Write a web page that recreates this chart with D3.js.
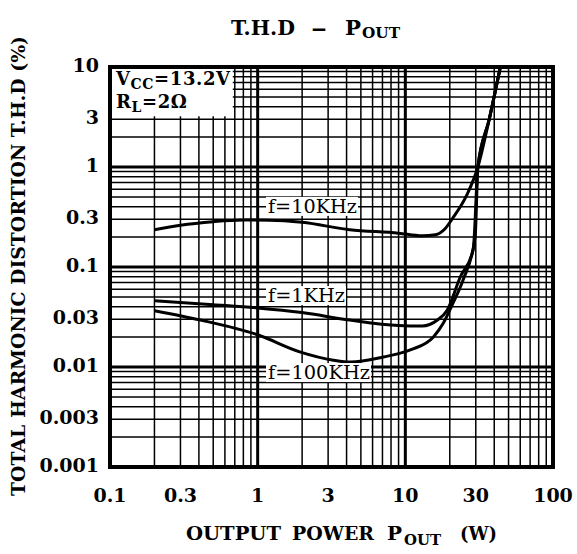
<!DOCTYPE html>
<html>
<head>
<meta charset="utf-8">
<script src="https://cdn.jsdelivr.net/npm/d3@7"></script>
<style>
  body { margin: 0; background: #fff; }
  svg text { font-family: "DejaVu Serif", serif; fill: #000; }
</style>
</head>
<body>
<div id="chart"></div>
<script>
// frame
const FRAME_WIDTH = 577;
const FRAME_HEIGHT = 554;
const PLOT = {left: 110, right: 553, top: 67, bottom: 467};

// tick labels
const X_TICKS = [0.1, 0.3, 1, 3, 10, 30, 100];
const X_TICK_LABELS = ["0.1", "0.3", "1", "3", "10", "30", "100"];
const Y_TICKS = [0.001, 0.003, 0.01, 0.03, 0.1, 0.3, 1, 3, 10];
const Y_TICK_LABELS = ["0.001", "0.003", "0.01", "0.03", "0.1", "0.3", "1", "3", "10"];

// f = 10KHz
const POUT_10K = [0.2, 0.3, 0.5, 0.8, 1.2, 2, 4.2, 9, 13, 16, 18.5, 21, 26, 31, 37, 44];
const THD_10K  = [0.236, 0.262, 0.284, 0.295, 0.294, 0.28, 0.236, 0.218, 0.205, 0.21, 0.24, 0.31, 0.52, 1.0, 3.0, 10];

// f = 1KHz
const POUT_1K = [0.2, 0.5, 1, 2, 4.2, 9, 13, 16.5, 19.2, 23.5, 28.8, 31, 37, 44];
const THD_1K  = [0.046, 0.042, 0.039, 0.035, 0.0295, 0.026, 0.0257, 0.0295, 0.037, 0.079, 0.148, 1.0, 3.0, 10];

// f = 100KHz
const POUT_100K = [0.2, 0.41, 1, 1.95, 3.26, 4.25, 7.1, 10.8, 15.5, 18.1, 21.1, 24.6, 29.7, 31, 37, 44];
const THD_100K  = [0.0366, 0.0295, 0.021, 0.0141, 0.0117, 0.0112, 0.0126, 0.0148, 0.02, 0.0275, 0.044, 0.074, 0.2, 1.0, 3.0, 10];

const SVG = d3.select("#chart")
  .append("svg")
    .attr("width", FRAME_WIDTH)
    .attr("height", FRAME_HEIGHT);

const x = d3.scaleLog().domain([0.1, 100]).range([PLOT.left, PLOT.right]);
const y = d3.scaleLog().domain([0.001, 10]).range([PLOT.bottom, PLOT.top]);

// grid: 1..9 in every decade, decades drawn heavier
const isDecade = (v) => Math.abs(Math.log10(v) - Math.round(Math.log10(v))) < 1e-6;

const grid = SVG.append("g").attr("stroke", "#000");
grid.selectAll(".vg")
  .data(x.ticks())
  .enter()
  .append("line")
    .attr("x1", (d) => x(d)).attr("x2", (d) => x(d))
    .attr("y1", PLOT.top).attr("y2", PLOT.bottom)
    .attr("stroke-width", (d) => isDecade(d) ? 3 : 1.5);

grid.selectAll(".hg")
  .data(y.ticks())
  .enter()
  .append("line")
    .attr("x1", PLOT.left).attr("x2", PLOT.right)
    .attr("y1", (d) => y(d)).attr("y2", (d) => y(d))
    .attr("stroke-width", (d) => isDecade(d) ? 3 : 1.5);

// legend box (covers the grid)
SVG.append("rect")
  .attr("x", PLOT.left)
  .attr("y", PLOT.top)
  .attr("width", x(0.7) - PLOT.left - 2)
  .attr("height", y(3) - PLOT.top - 3)
  .attr("fill", "#fff");

const legend = SVG.append("g").attr("font-weight", "bold").attr("font-size", 18);
const l1 = legend.append("text").attr("x", 116).attr("y", 85).attr("letter-spacing", 0.6);
l1.append("tspan").text("V");
l1.append("tspan").attr("font-size", 14).attr("dy", 4).text("CC");
l1.append("tspan").attr("dy", -4).text("=13.2V");
const l2 = legend.append("text").attr("x", 116).attr("y", 108).attr("letter-spacing", 0.6);
l2.append("tspan").text("R");
l2.append("tspan").attr("font-size", 14).attr("dy", 4).text("L");
l2.append("tspan").attr("dy", -4).text("=2\u03A9");

// curves
const line = d3.line()
  .x((d) => x(d[0]))
  .y((d) => y(d[1]))
  .curve(d3.curveMonotoneX);

const curves = [
  {p: POUT_10K, t: THD_10K},
  {p: POUT_1K, t: THD_1K},
  {p: POUT_100K, t: THD_100K}
];

SVG.append("g")
  .selectAll("path")
  .data(curves)
  .enter()
  .append("path")
    .attr("fill", "none")
    .attr("stroke", "#000")
    .attr("stroke-width", 3)
    .attr("d", (c) => line(c.p.map((v, i) => [v, c.t[i]])));

// curve labels with white background
const curveLabels = [
  {text: "f=10KHz", v: 0.39, w: 89},
  {text: "f=1KHz", v: 0.05, w: 77},
  {text: "f=100KHz", v: 0.0085, w: 102}
];
curveLabels.forEach((c) => {
  const g = SVG.append("g");
  const t = g.append("text")
    .attr("x", 268)
    .attr("y", y(c.v))
    .attr("font-size", 18)
    .attr("textLength", c.w)
    .attr("lengthAdjust", "spacingAndGlyphs")
    .attr("dominant-baseline", "middle")
    .text(c.text);
  const b = t.node().getBBox();
  g.insert("rect", "text")
    .attr("x", b.x - 2).attr("y", b.y + 1)
    .attr("width", b.width + 3).attr("height", b.height - 2)
    .attr("fill", "#fff");
});

// frame border
SVG.append("rect")
  .attr("x", PLOT.left).attr("y", PLOT.top)
  .attr("width", PLOT.right - PLOT.left)
  .attr("height", PLOT.bottom - PLOT.top)
  .attr("fill", "none")
  .attr("stroke", "#000")
  .attr("stroke-width", 4);

// tick labels
SVG.append("g")
  .selectAll("text")
  .data(X_TICKS)
  .enter()
  .append("text")
    .attr("x", (d) => x(d))
    .attr("y", 502)
    .attr("text-anchor", "middle")
    .attr("font-size", 19)
    .attr("font-weight", "bold")
    .text((d, i) => X_TICK_LABELS[i]);

SVG.append("g")
  .selectAll("text")
  .data(Y_TICKS)
  .enter()
  .append("text")
    .attr("x", 99)
    .attr("y", (d) => y(d))
    .attr("text-anchor", "end")
    .attr("dominant-baseline", "middle")
    .attr("font-size", 19)
    .attr("font-weight", "bold")
    .text((d, i) => Y_TICK_LABELS[i]);

// helper: a word stretched to a given width
function word(g, str, x0, y0, w, size) {
  return g.append("text")
    .attr("x", x0).attr("y", y0)
    .attr("font-size", size)
    .attr("textLength", w)
    .attr("lengthAdjust", "spacingAndGlyphs")
    .text(str);
}

// title
const title = SVG.append("g").attr("font-weight", "bold");
word(title, "T.H.D", 231, 35, 64, 21);
word(title, "\u2013", 311, 35, 16, 21);
word(title, "P", 345, 35, 16, 21);
word(title, "OUT", 362, 38, 38, 15);

// x axis title
const xt = SVG.append("g").attr("font-weight", "bold");
word(xt, "OUTPUT", 186, 540, 95, 19);
word(xt, "POWER", 292, 540, 82, 19);
word(xt, "P", 387, 540, 15, 19);
word(xt, "OUT", 404, 545, 37, 14);
word(xt, "(W)", 460, 540, 37, 19);

// y axis title
SVG.append("text")
  .attr("transform", "translate(25,266) rotate(-90)")
  .attr("text-anchor", "middle")
  .attr("font-size", 18)
  .attr("font-weight", "bold")
  .attr("textLength", 460)
  .attr("lengthAdjust", "spacingAndGlyphs")
  .text("TOTAL HARMONIC DISTORTION T.H.D (%)");
</script>
</body>
</html>
